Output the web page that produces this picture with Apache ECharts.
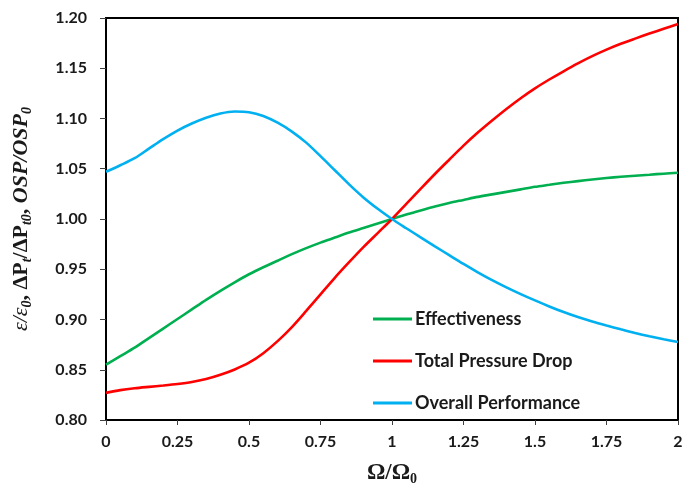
<!DOCTYPE html>
<html>
<head>
<meta charset="utf-8">
<script src="https://cdn.jsdelivr.net/npm/echarts@6/dist/echarts.min.js"></script>
<style>
  html, body { margin: 0; padding: 0; background: #fff; }
  #chart { width: 691px; height: 491px; }
</style>
</head>
<body>
<div id="chart"></div>
<script>
// Normalised rotational speed Ω/Ω0, sampled every 0.05
const speedRatio = [0, 0.05, 0.1, 0.15, 0.2, 0.25, 0.3, 0.35, 0.4, 0.45, 0.5,
  0.55, 0.6, 0.65, 0.7, 0.75, 0.8, 0.85, 0.9, 0.95, 1.0,
  1.05, 1.1, 1.15, 1.2, 1.25, 1.3, 1.35, 1.4, 1.45, 1.5,
  1.55, 1.6, 1.65, 1.7, 1.75, 1.8, 1.85, 1.9, 1.95, 2.0];

// ε/ε0
const effectiveness = [0.855, 0.8635, 0.872, 0.8815, 0.891, 0.9005, 0.910, 0.9195, 0.9285, 0.937, 0.945,
  0.952, 0.9585, 0.965, 0.971, 0.9765, 0.9815, 0.9865, 0.991, 0.9955, 1.000,
  1.0045, 1.0085, 1.0125, 1.016, 1.019, 1.022, 1.0245, 1.027, 1.0295, 1.032,
  1.034, 1.036, 1.0377, 1.0393, 1.0408, 1.042, 1.0431, 1.0441, 1.0451, 1.046];

// ΔPt/ΔPt0
const pressureDrop = [0.827, 0.8297, 0.8316, 0.833, 0.8343, 0.8358, 0.8378, 0.8408, 0.845, 0.8503, 0.857,
  0.8665, 0.8785, 0.8925, 0.9085, 0.925, 0.9415, 0.957, 0.972, 0.986, 1.000,
  1.015, 1.030, 1.0448, 1.059, 1.073, 1.086, 1.098, 1.1095, 1.1202, 1.130,
  1.1388, 1.147, 1.1548, 1.162, 1.1685, 1.1743, 1.1795, 1.1845, 1.1893, 1.194];

// OSP/OSP0
const overallPerformance = [1.047, 1.0535, 1.0605, 1.070, 1.0795, 1.088, 1.095, 1.1008, 1.105, 1.107, 1.1063,
  1.1025, 1.0958, 1.087, 1.076, 1.0625, 1.0485, 1.0345, 1.0215, 1.0102, 1.000,
  0.9908, 0.9818, 0.9728, 0.964, 0.9553, 0.947, 0.9392, 0.932, 0.9253, 0.919,
  0.913, 0.9074, 0.9024, 0.898, 0.894, 0.8902, 0.8866, 0.8833, 0.8803, 0.8776];

const seriesNames = ['Effectiveness', 'Total Pressure Drop', 'Overall Performance'];
const seriesColors = ['#00B050', '#FF0000', '#00B0F0'];
const seriesValues = [effectiveness, pressureDrop, overallPerformance];

const labelFont = 'Lato, "Open Sans", sans-serif';
const serif = '"Liberation Serif", "DejaVu Serif", serif';
const ink = '#1a1a1a';

function serifStyle(size, italic, bold, sub) {
  const s = { fontFamily: serif, fontSize: size, color: ink, lineHeight: sub ? 15 : 26 };
  if (italic) s.fontStyle = 'italic';
  if (bold) s.fontWeight = 'bold';
  if (sub) s.verticalAlign = 'bottom';
  return s;
}

const chart = echarts.init(document.getElementById('chart'), null, { renderer: 'canvas' });

chart.setOption({
  animation: false,
  backgroundColor: '#ffffff',
  grid: {
    left: 106, right: 13, top: 18, bottom: 71,
    show: true, borderColor: '#000', borderWidth: 2
  },
  legend: {
    orient: 'vertical',
    left: 373, top: 308,
    padding: 0,
    icon: 'rect',
    itemWidth: 39, itemHeight: 3,
    itemGap: 20,
    data: seriesNames,
    textStyle: { fontFamily: labelFont, fontWeight: 'bold', fontSize: 18, color: ink, lineHeight: 22, padding: [0, 0, 0, -2] }
  },
  xAxis: {
    type: 'value',
    min: 0, max: 2, interval: 0.25,
    name: '{o|Ω/Ω}{s|0}',
    nameLocation: 'middle',
    nameGap: 40,
    nameTextStyle: {
      rich: {
        o: serifStyle(23, false, true, false),
        s: serifStyle(14, false, true, true)
      }
    },
    axisLine: { onZero: false, lineStyle: { color: '#000', width: 2 } },
    axisTick: { length: 5, lineStyle: { color: '#404040', width: 1 } },
    axisLabel: { margin: 14, fontFamily: labelFont, fontWeight: 'bold', fontSize: 16, color: ink },
    splitLine: { show: false }
  },
  yAxis: {
    type: 'value',
    min: 0.8, max: 1.2, interval: 0.05,
    name: '{e|ε/ε}{es|0}{n|, }{d|ΔP}{ds|t}{d|/ΔP}{ds|t0}{n|, }{o|OSP/OSP}{os|0}',
    nameLocation: 'middle',
    nameRotate: 90,
    nameGap: 72,
    nameTextStyle: {
      rich: {
        e: serifStyle(22, true, false, false),
        es: serifStyle(14, true, true, true),
        n: serifStyle(22, false, true, false),
        d: serifStyle(22, false, true, false),
        ds: serifStyle(14, true, true, true),
        o: serifStyle(22, true, true, false),
        os: serifStyle(14, true, true, true)
      }
    },
    axisLine: { show: true, lineStyle: { color: '#000', width: 2 } },
    axisTick: { show: true, length: 6, lineStyle: { color: '#404040', width: 1 } },
    axisLabel: {
      margin: 19,
      fontFamily: labelFont, fontWeight: 'bold', fontSize: 16, color: ink,
      formatter: v => v.toFixed(2)
    },
    splitLine: { show: false }
  },
  series: seriesNames.map((name, i) => ({
    name,
    type: 'line',
    smooth: 0.3,
    showSymbol: false,
    symbol: 'none',
    color: seriesColors[i],
    itemStyle: { color: seriesColors[i] },
    lineStyle: { color: seriesColors[i], width: 2.6 },
    data: speedRatio.map((x, k) => [x, seriesValues[i][k]])
  }))
});
</script>
</body>
</html>
